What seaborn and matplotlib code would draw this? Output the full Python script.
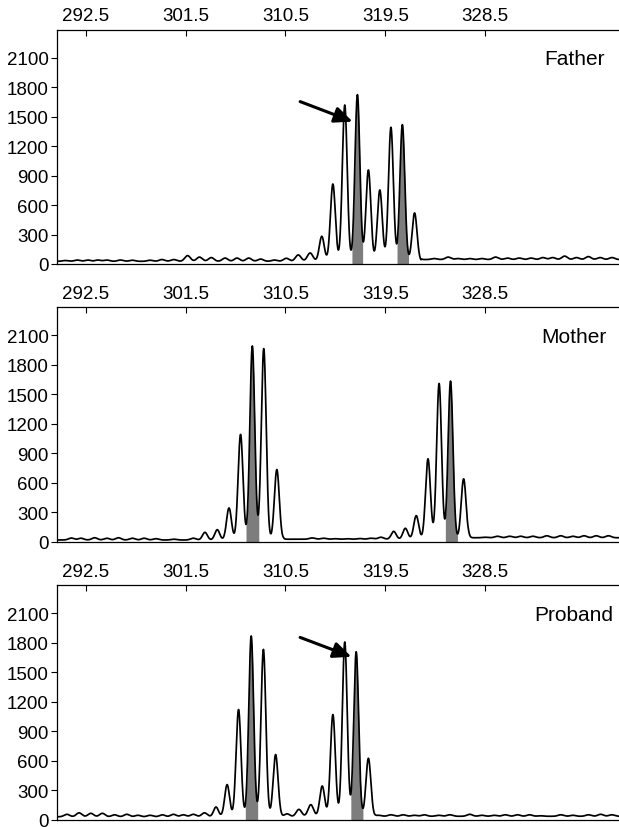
import numpy as np
import pandas as pd
import matplotlib
matplotlib.use("Agg")
import matplotlib.pyplot as plt
import seaborn as sns

# ---------------- data ----------------
panel_names = ["Father", "Mother", "Proband"]
x_ticks = [292.5, 301.5, 310.5, 319.5, 328.5]
y_ticks = [0, 300, 600, 900, 1200, 1500, 1800, 2100]

# main peaks (position in bp, height in RFU)
father_peak_pos = [313.77, 314.77, 315.84, 316.98, 317.97, 319.0, 320.0, 321.03, 322.13]
father_peak_h = [282, 815, 1620, 1726, 958, 754, 1393, 1420, 520]
father_shaded = [(316.48, 317.46), (320.55, 321.6)]
father_base_x = [290.0, 322.7, 322.8, 340.6]
father_base_y = [27, 27, 45, 45]
father_ripple_pos = [290.65, 291.72, 292.68, 293.6, 294.39, 295.63, 296.7, 298.3, 299.37,
                     300.43, 301.68, 302.75, 303.81, 305.06, 306.13, 307.19, 308.26, 309.5,
                     310.57, 311.65, 312.72,
                     323.9, 325.16, 326.05, 327.1, 328.2, 329.43, 330.5, 331.56, 332.63,
                     333.7, 334.58, 335.65, 336.72, 337.79, 338.85, 339.92]
father_ripple_h = [35, 40, 40, 40, 40, 40, 38, 38, 45,
                   45, 85, 70, 65, 60, 60, 60, 50, 40,
                   58, 92, 112,
                   55, 70, 55, 55, 55, 70, 60, 60, 60,
                   65, 65, 80, 65, 75, 65, 65]
father_arrow = [(311.82, 1655), (316.55, 1451)]

mother_peak_pos = [303.24, 304.35, 305.41, 306.45, 307.51, 308.54, 309.72,
                   320.25, 321.3, 322.28, 323.34, 324.34, 325.37, 326.55]
mother_peak_h = [95, 122, 343, 1091, 1991, 1964, 734,
                 105, 136, 265, 843, 1610, 1634, 639]
mother_shaded = [(306.94, 308.1), (324.9, 326.0)]
mother_base_x = [290.0, 310.2, 310.3, 326.9, 327.0, 340.6]
mother_base_y = [17, 17, 25, 25, 40, 40]
mother_ripple_pos = [291.2, 292.07, 293.3, 294.4, 295.45, 296.7, 297.77, 298.83, 300.43, 302.2,
                     312.9, 313.95, 315.0, 316.1, 317.2, 318.2, 319.1,
                     327.5, 328.5, 329.6, 330.7, 331.7, 332.8, 334.05, 335.3, 336.4,
                     337.4, 338.5, 339.6]
mother_ripple_h = [37, 35, 40, 35, 40, 35, 35, 30, 25, 35,
                   38, 35, 30, 30, 32, 35, 45,
                   40, 45, 55, 55, 55, 55, 60, 60, 55,
                   60, 60, 60]
mother_arrow = None

proband_peak_pos = [304.24, 305.24, 306.27, 307.41, 308.51, 309.61,
                    313.81, 314.77, 315.84, 316.87, 317.97]
proband_peak_h = [129, 357, 1121, 1869, 1733, 663,
                  343, 1070, 1808, 1709, 625]
proband_shaded = [(306.87, 308.0), (316.38, 317.48)]
proband_base_x = [290.0, 318.5, 318.6, 340.6]
proband_base_y = [30, 30, 35, 35]
proband_ripple_pos = [290.8, 291.9, 292.96, 294.0, 295.1, 296.2, 297.2, 298.3, 299.4,
                      300.4, 301.3, 302.2, 303.2,
                      310.64, 311.71, 312.78,
                      318.9, 320.0, 321.1, 322.1, 323.0, 324.3, 325.3, 327.1, 328.2,
                      329.3, 330.3, 331.4, 332.5, 333.5, 335.3, 336.4, 337.8, 338.9, 339.9]
proband_ripple_h = [55, 70, 65, 65, 50, 55, 45, 45, 50,
                    55, 50, 55, 70,
                    60, 105, 153,
                    45, 50, 50, 45, 50, 45, 50, 55, 45,
                    45, 50, 50, 50, 40, 50, 45, 50, 55, 50]
proband_arrow = [(311.82, 1855), (316.44, 1658)]

panels = [
    (father_peak_pos, father_peak_h, father_shaded, father_base_x, father_base_y,
     father_ripple_pos, father_ripple_h, father_arrow),
    (mother_peak_pos, mother_peak_h, mother_shaded, mother_base_x, mother_base_y,
     mother_ripple_pos, mother_ripple_h, mother_arrow),
    (proband_peak_pos, proband_peak_h, proband_shaded, proband_base_x, proband_base_y,
     proband_ripple_pos, proband_ripple_h, proband_arrow),
]

# ---------------- styling ----------------
sns.set_theme(style="white")
plt.rcParams["font.family"] = ["Liberation Sans", "DejaVu Sans"]

X_MIN, X_MAX = 289.93, 340.55
Y_MAX = 2385
PEAK_SIGMA = 0.22
RIPPLE_SIGMA = 0.25

fig = plt.figure(figsize=(6.19, 8.28), dpi=100)
axes_boxes = [
    [0.0924, 0.680, 0.9076, 0.2826],
    [0.0924, 0.3446, 0.9076, 0.2831],
    [0.0924, 0.0088, 0.9076, 0.2831],
]

x = np.linspace(X_MIN, X_MAX, 4000)

for name, box, (pp, ph, shaded, bx, by, rp, rh, arrow) in zip(panel_names, axes_boxes, panels):
    ax = fig.add_axes(box)
    base = np.interp(x, bx, by)
    y = base.copy()
    for p, h in zip(pp, ph):
        b = np.interp(p, bx, by)
        y += (h - b) * np.exp(-0.5 * ((x - p) / PEAK_SIGMA) ** 2)
    for p, h in zip(rp, rh):
        b = np.interp(p, bx, by)
        y += (h - b) * np.exp(-0.5 * ((x - p) / RIPPLE_SIGMA) ** 2)

    df = pd.DataFrame({"size": x, "rfu": y})
    for a, b in shaded:
        m = (x >= a) & (x <= b)
        ax.fill_between(df["size"][m], 0, df["rfu"][m], color="#7d7d7d", lw=0, zorder=1)
    sns.lineplot(data=df, x="size", y="rfu", ax=ax, color="black", lw=1.25,
                 sort=False, estimator=None, zorder=2)

    if arrow is not None:
        ax.annotate("", xy=arrow[1], xytext=arrow[0],
                    arrowprops=dict(arrowstyle="-|>,head_length=0.9,head_width=0.4",
                                    color="black", lw=2.2, shrinkA=0, shrinkB=0),
                    zorder=5)

    ax.text(336.5, 2090, name, ha="center", va="center", fontsize=15, color="black")

    ax.set_xlim(X_MIN, X_MAX)
    ax.set_ylim(0, Y_MAX)
    ax.set_xticks(x_ticks)
    ax.set_xticklabels([f"{t:.1f}" for t in x_ticks])
    ax.set_yticks(y_ticks)
    ax.set_yticklabels([str(t) for t in y_ticks])
    ax.xaxis.tick_top()
    ax.tick_params(axis="x", direction="in", length=4, width=0.8, pad=4,
                   labelsize=13.5, colors="black")
    ax.tick_params(axis="y", direction="out", length=4, width=0.8, pad=2,
                   labelsize=13.5, colors="black", left=True)
    ax.set_xlabel("")
    ax.set_ylabel("")
    for s in ["left", "top", "bottom"]:
        ax.spines[s].set_visible(True)
        ax.spines[s].set_color("black")
        ax.spines[s].set_linewidth(0.9)
    ax.spines["right"].set_visible(False)
    ax.grid(False)

fig.savefig("out.png", dpi=100)
